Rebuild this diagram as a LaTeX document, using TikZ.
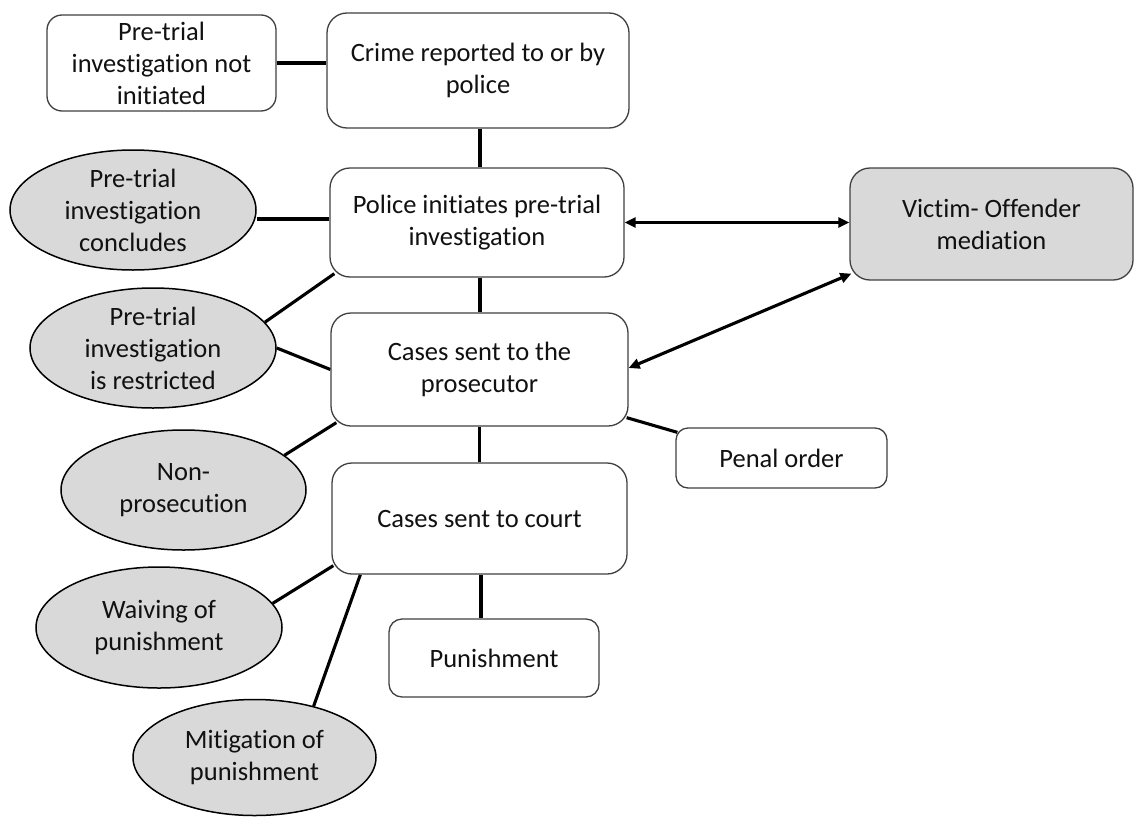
\documentclass[tikz,border=0pt]{standalone}
\usepackage{fontspec}
\setmainfont[Ligatures=NoCommon]{Carlito}
\usetikzlibrary{shapes.geometric,arrows.meta,backgrounds}
\definecolor{ovalfill}{HTML}{D9D9D9}
\definecolor{boxline}{HTML}{404040}
\definecolor{txt}{HTML}{111111}
\begin{document}
\begin{tikzpicture}[x=1pt,y=-1pt,
  every node/.style={font=\fontsize{26.5pt}{32pt}\selectfont, text=txt, align=center, inner sep=0pt},
  box/.style={draw=boxline, line width=1.3pt, fill=white, rounded corners=#1},
  box/.default=18pt,
  oval/.style={ellipse, draw=black, line width=1.5pt, fill=ovalfill},
  conn/.style={line width=3.1pt, line cap=butt},
  twoway/.style={conn, {Triangle[length=11pt,width=10pt]}-{Triangle[length=11pt,width=10pt]}}
]
\useasboundingbox (0,0) rectangle (1134,816);

% rectangular boxes
\node[box=15pt, minimum width=229pt, minimum height=96pt] (A) at (161.5,63) {Pre-trial\\investigation not\\initiated};
\node[box=20pt, minimum width=302pt, minimum height=115pt] (B) at (478,70.5) {Crime reported to or by\\police};
\node[box=20pt, minimum width=294pt, minimum height=109pt] (C) at (477,222.5) {Police initiates pre-trial\\investigation};
\node[box=20pt, minimum width=297pt, minimum height=113pt] (F) at (479.5,369.5) {Cases sent to the\\prosecutor};
\node[box=20pt, minimum width=295pt, minimum height=111pt] (H) at (479.5,518.5) {Cases sent to court};
\node[box=13pt, minimum width=210pt, minimum height=78pt] (K) at (494,658) {Punishment};
\node[box=20pt, minimum width=283pt, minimum height=112pt, fill=ovalfill] (L) at (991.5,224) {Victim- Offender\\mediation};
\node[box=12pt, minimum width=211pt, minimum height=60pt] (M) at (781.5,458) {Penal order};

% ellipses
\node[oval, minimum width=246pt, minimum height=120pt] (D) at (133,210) {Pre-trial\\investigation\\concludes};
\node[oval, minimum width=246pt, minimum height=120pt] (E) at (153,348) {Pre-trial\\investigation\\is restricted};
\node[oval, minimum width=245pt, minimum height=120pt] (G) at (183.5,490) {Non-\\prosecution};
\node[oval, minimum width=246pt, minimum height=121pt] (I) at (159,627.5) {Waiving of\\punishment};
\node[oval, minimum width=243pt, minimum height=116pt] (J) at (254.5,757.5) {Mitigation of\\punishment};

% connectors
\begin{scope}[on background layer]
\draw[conn] (A.east) -- (A.east -| B.west);
\draw[conn] ([xshift=2pt]B.south) -- ([xshift=2pt]B.south |- C.north);
\draw[conn] ([yshift=3.5pt]C.west) -- ([yshift=3.5pt]C.west -| D.east);
\draw[conn] ([shift={(5pt,4pt)}]C.south west) -- (E.13);
\draw[conn] (E.east) -- (F.west);
\draw[conn] ([xshift=3pt]C.south) -- ([xshift=3pt]C.south |- F.north);
\draw[conn] ([shift={(6pt,4pt)}]F.south west) -- (G.19);
\draw[conn] (F.south) -- (F.south |- H.north);
\draw[conn] ([shift={(2pt,9pt)}]H.south west) -- (I.12);
\draw[conn] ([xshift=29pt]H.south west) -- (J.41);
\draw[conn] ([xshift=1.5pt]H.south) -- ([xshift=1.5pt]H.south |- K.north);
\draw[conn] ([shift={(-2pt,9pt)}]F.south east) -- ([shift={(2pt,-5pt)}]M.north west);
\end{scope}
\draw[twoway] (C.east) -- (C.east -| L.west);
\draw[twoway] ([yshift=1.5pt]F.east) -- ([shift={(2pt,7pt)}]L.south west);
\end{tikzpicture}
\end{document}
